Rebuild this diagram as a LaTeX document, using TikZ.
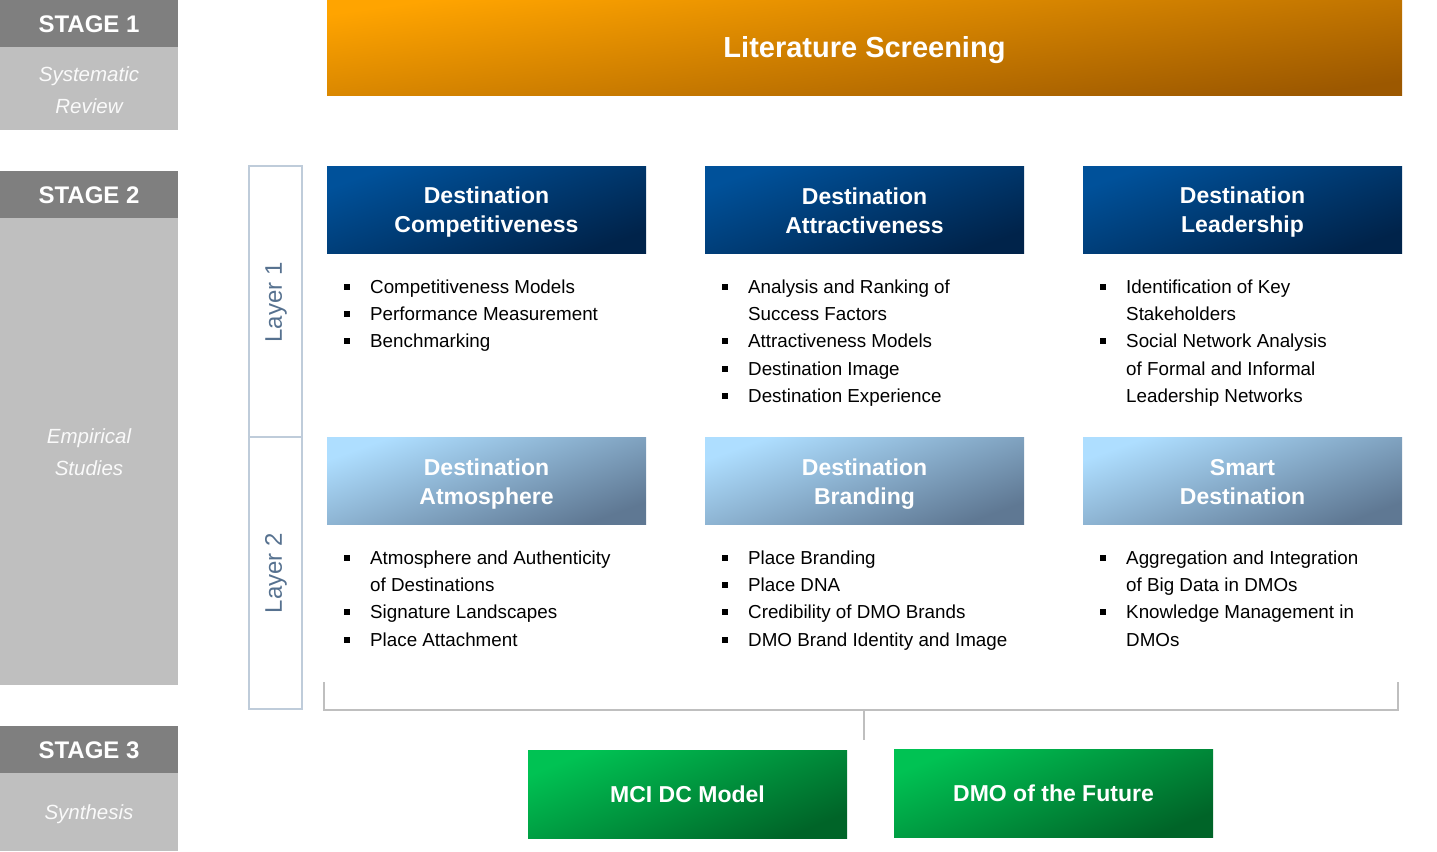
\documentclass[tikz,border=0pt]{standalone}
\usepackage{fontspec}
\setmainfont{Liberation Sans}
\definecolor{stdark}{HTML}{7F7F7F}
\definecolor{stlight}{HTML}{BFBFBF}
\definecolor{stxt}{HTML}{FAFAFA}
\definecolor{orA}{HTML}{FFA400}
\definecolor{orB}{HTML}{9C5800}
\definecolor{blA}{HTML}{00519A}
\definecolor{blB}{HTML}{00234A}
\definecolor{lbA}{HTML}{AEDEFF}
\definecolor{lbB}{HTML}{5F7893}
\definecolor{grA}{HTML}{00C253}
\definecolor{grB}{HTML}{006428}
\definecolor{layc}{HTML}{BFCCDA}
\definecolor{laytx}{HTML}{56718F}
\definecolor{brc}{HTML}{BFBFBF}
\newcommand\hstr{\rule[-3.6pt]{0pt}{25.6pt}}
\newcommand\sstr{\rule[-4pt]{0pt}{22pt}}
\tikzset{
  stagebox/.style={fill=stdark, draw=none, minimum width=178pt, minimum height=47pt, inner sep=0, text=white, text height=17.2pt, text depth=0pt, font=\fontsize{24}{28}\selectfont\bfseries},
  stagelight/.style={fill=stlight, draw=none, minimum width=178pt, inner sep=0},
  stagetext/.style={inner sep=0, text=stxt, align=center, font=\fontsize{20.5}{32}\selectfont\itshape},
  hdr/.style={minimum width=319pt, minimum height=87pt, inner sep=0, align=center, text=white, font=\fontsize{23}{29}\selectfont\bfseries},
  bluehdr/.style={hdr, top color=blA, bottom color=blB, shading angle=20},
  lbhdr/.style={hdr, top color=lbA, bottom color=lbB, shading angle=20},
  greenbox/.style={hdr, minimum height=88pt, text height=16.5pt, text depth=0pt, top color=grA, bottom color=grB, shading angle=22},
  bulsq/.style={fill=black, draw=none, minimum size=5.5pt, inner sep=0},
  bultx/.style={anchor=west, inner sep=0, text height=13.5pt, text depth=0pt, font=\fontsize{18.8}{22}\selectfont},
  laytext/.style={rotate=90, text=laytx, inner sep=0, font=\fontsize{24}{28}\selectfont},
  layframe/.style={draw=layc, line width=2pt},
  bracket/.style={draw=brc, line width=2pt},
}
\newcommand\mybul[4]{\node[bulsq] (#1b) at (#2+20,#3) {}; \node[bultx] (#1) at (#2+43,#3) {#4};}
\newcommand\mycont[4]{\node[bultx] (#1) at (#2+43,#3) {#4};}
\begin{document}
\begin{tikzpicture}[x=1pt,y=-1pt]
\useasboundingbox (0,0) rectangle (1437,851);
% stages
\node[stagelight, minimum height=83pt] (s1l) at (89,88.5) {};
\node[stagelight, minimum height=467pt] (s2l) at (89,451.5) {};
\node[stagelight, minimum height=78pt] (s3l) at (89,812) {};
\node[stagebox] (s1) at (89,23.5) {STAGE 1};
\node[stagebox] (s2) at (89,194.5) {STAGE 2};
\node[stagebox] (s3) at (89,749.5) {STAGE 3};
\node[stagetext] (s1t) at (89,90) {\sstr Systematic\\\sstr Review};
\node[stagetext] (s2t) at (89,452) {\sstr Empirical\\\sstr Studies};
\node[stagetext, text height=14.7pt, text depth=0pt] (s3t) at (89,812) {Synthesis};
% literature screening
\node[hdr, minimum width=1075pt, minimum height=95pt, text height=20.8pt, text depth=0pt, top color=orA, bottom color=orB, shading angle=8, font=\fontsize{29}{34}\selectfont\bfseries] (lit) at (864.5,47.5) {Literature Screening};
% layer frame
\draw[layframe] (249,166) rectangle (302,709);
\draw[layframe] (249,437) -- (302,437);
\node[laytext] (lay1) at (276,302.5) {Layer 1};
\node[laytext] (lay2) at (276,573) {Layer 2};
% headers layer 1
\node[bluehdr] (dc) at (486.5,209.5) {\hstr Destination\\\hstr Competitiveness};
\node[bluehdr] (da) at (864.5,209.5) {\hstr Destination\\\hstr Attractiveness};
\node[bluehdr] (dl) at (1242.5,209.5) {\hstr Destination\\\hstr Leadership};
% headers layer 2
\node[lbhdr] (dat) at (486.5,481) {\hstr Destination\\\hstr Atmosphere};
\node[lbhdr] (db) at (864.5,481) {\hstr Destination\\\hstr Branding};
\node[lbhdr] (sd) at (1242.5,481) {\hstr Smart\\\hstr Destination};
% bullets column 1 layer 1
\mybul{a1}{327}{287}{Competitiveness Models}
\mybul{a2}{327}{314}{Performance Measurement}
\mybul{a3}{327}{341}{Benchmarking}
% column 2 layer 1
\mybul{b1}{705}{287}{Analysis and Ranking of}
\mycont{b2}{705}{314}{Success Factors}
\mybul{b3}{705}{341}{Attractiveness Models}
\mybul{b4}{705}{369}{Destination Image}
\mybul{b5}{705}{396}{Destination Experience}
% column 3 layer 1
\mybul{c1}{1083}{287}{Identification of Key}
\mycont{c2}{1083}{314}{Stakeholders}
\mybul{c3}{1083}{341}{Social Network Analysis}
\mycont{c4}{1083}{369}{of Formal and Informal}
\mycont{c5}{1083}{396}{Leadership Networks}
% column 1 layer 2
\mybul{d1}{327}{558}{Atmosphere and Authenticity}
\mycont{d2}{327}{585}{of Destinations}
\mybul{d3}{327}{612}{Signature Landscapes}
\mybul{d4}{327}{640}{Place Attachment}
% column 2 layer 2
\mybul{e1}{705}{558}{Place Branding}
\mybul{e2}{705}{585}{Place DNA}
\mybul{e3}{705}{612}{Credibility of DMO Brands}
\mybul{e4}{705}{640}{DMO Brand Identity and Image}
% column 3 layer 2
\mybul{f1}{1083}{558}{Aggregation and Integration}
\mycont{f2}{1083}{585}{of Big Data in DMOs}
\mybul{f3}{1083}{612}{Knowledge Management in}
\mycont{f4}{1083}{640}{DMOs}
% bracket
\coordinate (brl) at (324,682);
\coordinate (brr) at (1398,682);
\coordinate (brm) at (864,710);
\coordinate (brb) at (864,740);
\draw[bracket] (brl) |- (brm) -| (brr);
\draw[bracket] (brm) -- (brb);
% synthesis boxes
\node[greenbox] (mci) at (687.5,794) {MCI DC Model};
\node[greenbox] (dmo) at (1053.5,793) {DMO of the Future};
\end{tikzpicture}
\end{document}
